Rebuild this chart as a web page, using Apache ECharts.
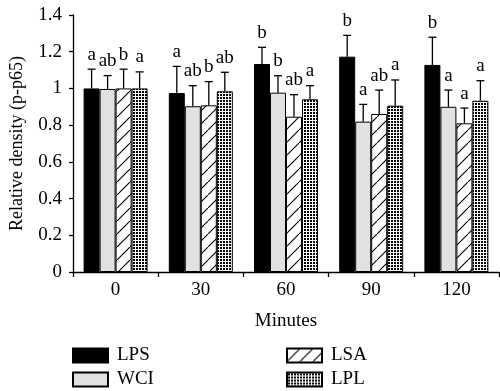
<!DOCTYPE html>
<html>
<head>
<meta charset="utf-8">
<script src="https://cdn.jsdelivr.net/npm/echarts@6/dist/echarts.min.js"></script>
<style>html,body{margin:0;padding:0;background:#fff}#c{width:500px;height:391px}</style>
</head>
<body>
<div id="c"></div>
<script>
const categories = ['0', '30', '60', '90', '120'];
const seriesNames = ['LPS', 'WCI', 'LSA', 'LPL'];
const lpsValues = [1.00, 0.975, 1.133, 1.173, 1.128];
const wciValues = [0.997, 0.903, 0.977, 0.819, 0.900];
const lsaValues = [1.00, 0.908, 0.846, 0.861, 0.810];
const lplValues = [1.00, 0.984, 0.941, 0.906, 0.933];
const lpsErrors = [0.105, 0.145, 0.091, 0.116, 0.151];
const wciErrors = [0.073, 0.112, 0.092, 0.094, 0.091];
const lsaErrors = [0.105, 0.129, 0.120, 0.130, 0.083];
const lplErrors = [0.090, 0.104, 0.074, 0.140, 0.109];
const lpsLetters = ['a', 'a', 'b', 'b', 'b'];
const wciLetters = ['ab', 'ab', 'b', 'a', 'a'];
const lsaLetters = ['b', 'b', 'ab', 'ab', 'a'];
const lplLetters = ['a', 'ab', 'a', 'a', 'a'];
const yTicks = [0, 0.2, 0.4, 0.6, 0.8, 1, 1.2, 1.4];

const FONT = '"Liberation Serif", "Times New Roman", serif';

function hatchPattern() {
  const s = 13;
  const c = document.createElement('canvas');
  c.width = s; c.height = s;
  const g = c.getContext('2d');
  g.fillStyle = '#fff'; g.fillRect(0, 0, s, s);
  g.strokeStyle = '#000'; g.lineWidth = 1.1;
  g.beginPath();
  g.moveTo(-1, s + 1); g.lineTo(s + 1, -1);
  g.moveTo(-s - 1, 1); g.lineTo(1, -s - 1);
  g.moveTo(s - 1, 2 * s + 1); g.lineTo(2 * s + 1, s - 1);
  g.stroke();
  return c;
}
function dotPattern() {
  const c = document.createElement('canvas');
  c.width = 3; c.height = 3;
  const g = c.getContext('2d');
  g.fillStyle = '#fff'; g.fillRect(0, 0, 3, 3);
  g.fillStyle = '#000'; g.fillRect(1, 1, 2, 2);
  return c;
}

const styles = [
  { color: '#000', borderColor: '#000', borderWidth: 1 },
  { color: '#e1e1e1', borderColor: '#000', borderWidth: 1 },
  { color: { image: hatchPattern(), repeat: 'repeat' }, borderColor: '#000', borderWidth: 1 },
  { color: { image: dotPattern(), repeat: 'repeat' }, borderColor: '#000', borderWidth: 1 }
];
const values = [lpsValues, wciValues, lsaValues, lplValues];
const errors = [lpsErrors, wciErrors, lsaErrors, lplErrors];
const letters = [lpsLetters, wciLetters, lsaLetters, lplLetters];
const BAR_W = 16;

const series = [];
seriesNames.forEach((name, i) => {
  series.push({
    name: name, type: 'bar', data: values[i], barWidth: BAR_W, barGap: '0%',
    itemStyle: styles[i], emphasis: { disabled: true }, z: 2
  });
});
seriesNames.forEach((name, i) => {
  const offset = (i - 1.5) * BAR_W;
  series.push({
    type: 'custom', silent: true, z: 3,
    data: values[i].map((v, k) => [k, v, errors[i][k], letters[i][k]]),
    renderItem: function (params, api) {
      const cat = api.value(0), v = api.value(1), e = api.value(2);
      const p0 = api.coord([cat, v]);
      const p1 = api.coord([cat, v + e]);
      const x = p0[0] + offset;
      return {
        type: 'group',
        children: [
          { type: 'line', shape: { x1: x, y1: p0[1], x2: x, y2: p1[1] }, style: { stroke: '#000', lineWidth: 1.3 } },
          { type: 'line', shape: { x1: x - 4, y1: p1[1], x2: x + 4, y2: p1[1] }, style: { stroke: '#000', lineWidth: 1.3 } },
          { type: 'text', x: x, y: p1[1] - 5, style: { text: api.value(3), fill: '#000', font: '19px ' + FONT, textAlign: 'center', textVerticalAlign: 'bottom' } }
        ]
      };
    }
  });
});

function legendItem(name, left, top) {
  return {
    data: [{ name: name, icon: 'rect' }], left: left, top: top, padding: 0, itemWidth: 35, itemHeight: 14,
    textStyle: { fontFamily: FONT, fontSize: 19, color: '#000', padding: [0, 0, 0, 4] }, selectedMode: false
  };
}

const chart = echarts.init(document.getElementById('c'), null, { renderer: 'canvas' });
chart.setOption({
  animation: false,
  backgroundColor: '#fff',
  grid: { left: 72, right: 1, top: 15, bottom: 119, containLabel: false },
  legend: [
    legendItem('LPS', 72, 346),
    legendItem('WCI', 72, 370),
    legendItem('LSA', 286, 346),
    legendItem('LPL', 286, 370)
  ],
  xAxis: {
    type: 'category', data: categories,
    name: 'Minutes', nameLocation: 'middle', nameGap: 40,
    nameTextStyle: { fontFamily: FONT, fontSize: 19, color: '#000' },
    axisLine: { lineStyle: { color: '#000', width: 1.3 } },
    axisTick: { show: true, length: 5, lineStyle: { color: '#000', width: 1.3 } },
    axisLabel: { fontFamily: FONT, fontSize: 19, color: '#000', margin: 9 },
    splitLine: { show: false }
  },
  yAxis: {
    type: 'value', min: 0, max: 1.4, interval: 0.2,
    name: 'Relative density (p-p65)', nameLocation: 'middle', nameGap: 47,
    nameTextStyle: { fontFamily: FONT, fontSize: 18, color: '#000' },
    axisLine: { show: true, lineStyle: { color: '#000', width: 1.3 } },
    axisTick: { show: true, length: 4, lineStyle: { color: '#000', width: 1.3 } },
    axisLabel: { fontFamily: FONT, fontSize: 19, color: '#000', margin: 11,
      formatter: function (v) { return String(yTicks.find(t => Math.abs(t - v) < 1e-9) ?? v); } },
    splitLine: { show: false }
  },
  series: series
});
</script>
</body>
</html>
